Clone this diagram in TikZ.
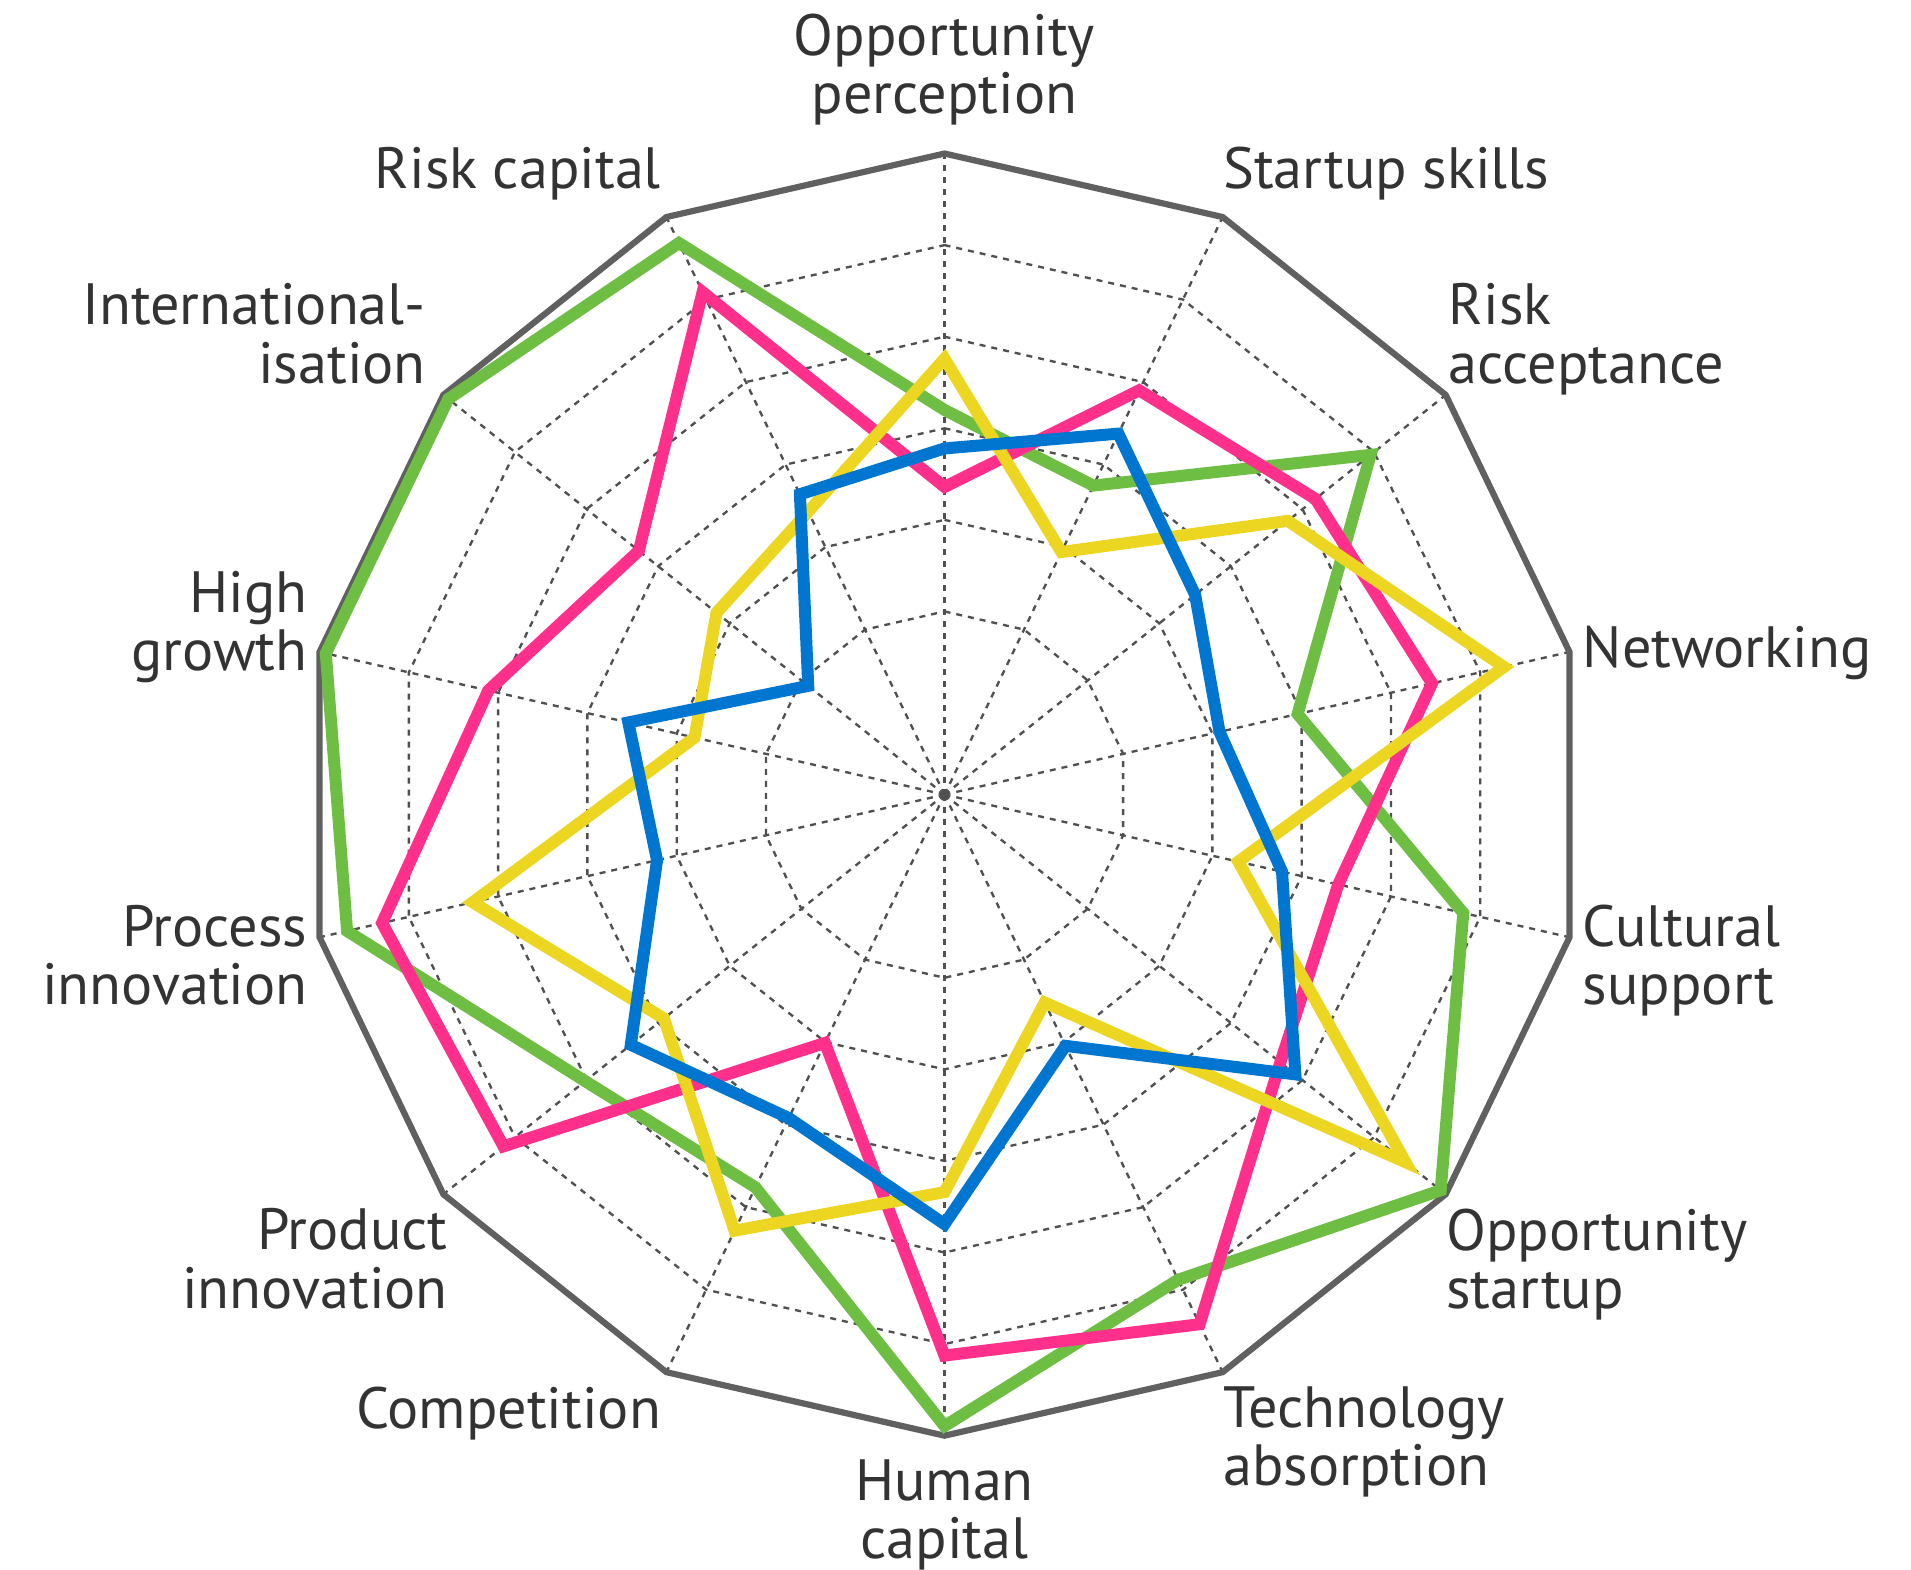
\documentclass[tikz,border=0pt]{standalone}
\usepackage{fontspec}
\setmainfont{PT Sans}
\definecolor{rimgray}{HTML}{606060}
\definecolor{gridgray}{HTML}{505050}
\definecolor{labelgray}{HTML}{333333}
\definecolor{seriesgreen}{HTML}{6EBE44}
\definecolor{seriespink}{HTML}{FF308C}
\definecolor{seriesyellow}{HTML}{ECD622}
\definecolor{seriesblue}{HTML}{0076D0}
\newcommand\R{5.26}
% one closed profile: colour, then 14 values (fraction of the rim)
\newcommand\profile[2]{%
	\foreach \v [count=\i from 0] in {#2}
	\coordinate (#1-\i) at ({90-\i*360/14}:{\v*\R});
	\draw[series, #1] (#1-0) \foreach \i in {1,...,13}{ -- (#1-\i) } -- cycle;
}
\begin{document}
\begin{tikzpicture}[
		gridline/.style={gridgray, line width=0.55pt, dash pattern=on 1.4pt off 1.4pt},
		rim/.style={rimgray, line width=1.45pt, line join=miter},
		series/.style={line width=2.8pt, line join=miter},
		axislabel/.style={inner sep=0pt, text=labelgray, font=\fontsize{13.6}{13.6}\selectfont}
	]
		\useasboundingbox (0,0) rectangle (15.68,12.88);
		\begin{scope}[shift={(7.75,6.36)}]
		\coordinate (centre) at (0,0);
		% spokes and rings
		\foreach \i in {0,...,13}{
		\coordinate (v\i) at ({90-\i*360/14}:\R);
		\draw[gridline] (centre) -- (v\i);
		}
		\foreach \k in {2,...,6}
		\draw[gridline] (90:{\k*\R/7}) \foreach \i in {1,...,13}{ -- ({90-\i*360/14}:{\k*\R/7}) } -- cycle;
		\draw[rim] (v0) \foreach \i in {1,...,13}{ -- (v\i) } -- cycle;
		% the four profiles
		\profile{seriesgreen}{0.60,0.535,0.85,0.565,0.83,0.99,0.84,0.985,0.68,0.717,0.956,0.99,0.99,0.955}
		\profile{seriespink}{0.48,0.70,0.74,0.78,0.63,0.67,0.917,0.875,0.43,0.88,0.90,0.73,0.61,0.87}
		\profile{seriesyellow}{0.68,0.42,0.685,0.895,0.47,0.92,0.36,0.62,0.755,0.56,0.755,0.40,0.455,0.49}
		\profile{seriesblue}{0.54,0.625,0.50,0.44,0.54,0.70,0.435,0.67,0.56,0.626,0.46,0.506,0.272,0.52}
		\end{scope}
		\foreach \pos/\anc/\al/\txt [count=\n from 0] in {
			{7.75,12.77}/north/center/{Opportunity\\perception},
			{10.03,11.68}/north west/left/{Startup skills},
			{11.88,10.56}/north west/left/{Risk\\acceptance},
			{12.98,7.75}/north west/left/{Networking},
			{12.98,5.46}/north west/left/{Cultural\\support},
			{11.86,2.97}/north west/left/{Opportunity\\startup},
			{10.03,1.51}/north west/left/{Technology\\absorption},
			{7.75,0.91}/north/center/{Human\\capital},
			{5.43,1.51}/north east/right/{Competition},
			{3.68,2.97}/north east/right/{Product\\innovation},
			{2.53,5.46}/north east/right/{Process\\innovation},
			{2.53,8.20}/north east/right/{High\\growth},
			{3.50,10.56}/north east/right/{International-\\isation},
			{5.43,11.68}/north east/right/{Risk capital}}{
		\node[axislabel, anchor=\anc, align=\al] (label\n) at (\pos) {\txt};
		}
		\end{tikzpicture}
\end{document}
